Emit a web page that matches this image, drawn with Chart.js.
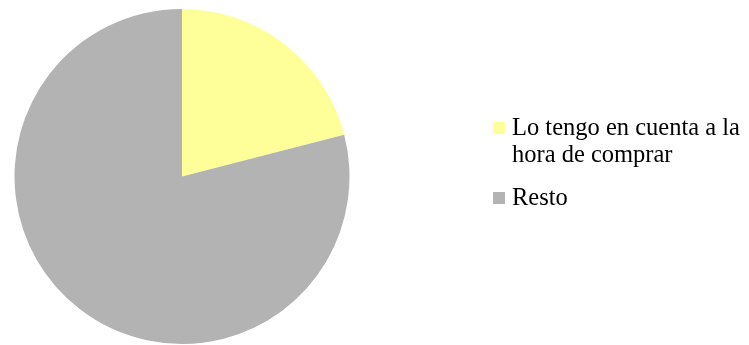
<!DOCTYPE html>
<html>
<head>
<meta charset="utf-8">
<script src="https://cdn.jsdelivr.net/npm/chart.js@4.4.1/dist/chart.umd.min.js"></script>
<style>
    html, body { margin: 0; padding: 0; background: #fff; }
    #wrap { position: relative; width: 749px; height: 345px; overflow: hidden; }
    #pieChart { position: absolute; left: 0; top: 0; }
    #legend {
        position: absolute; left: 493px; top: 113px;
        font-family: "Liberation Serif", "Times New Roman", serif;
        font-size: 24.5px; line-height: 27px; color: #000;
    }
    .item { position: relative; padding-left: 19px; white-space: nowrap; }
    .item + .item { margin-top: 16px; }
    .box { position: absolute; left: 0; top: 9px; width: 12px; height: 12px; }
</style>
</head>
<body>
<div id="wrap">
    <canvas id="pieChart" width="749" height="345"></canvas>
    <div id="legend"></div>
</div>
<script>
// Answers to the survey question
const labels = [['Lo tengo en cuenta a la', 'hora de comprar'], 'Resto'];
const values = [21, 79];
const colors = ['#FFFF99', '#B3B3B3'];

document.addEventListener('DOMContentLoaded', function() {
    const ctx = document.getElementById('pieChart');
    const chart = new Chart(ctx.getContext('2d'), {
        type: 'pie',
        data: {
            labels: labels,
            datasets: [{
                data: values,
                backgroundColor: colors,
                borderWidth: 0
            }]
        },
        options: {
            responsive: false,
            animation: false,
            layout: { padding: { left: 14, right: 399, top: 9, bottom: 1 } },
            plugins: {
                legend: { display: false },
                tooltip: { enabled: false }
            }
        }
    });

    // Legend built from the chart's own labels and colours
    const legend = document.getElementById('legend');
    chart.data.labels.forEach(function(label, i) {
        const item = document.createElement('div');
        item.className = 'item';
        const box = document.createElement('span');
        box.className = 'box';
        box.style.background = chart.data.datasets[0].backgroundColor[i];
        item.appendChild(box);
        const lines = Array.isArray(label) ? label : [label];
        lines.forEach(function(line, j) {
            if (j > 0) item.appendChild(document.createElement('br'));
            item.appendChild(document.createTextNode(line));
        });
        legend.appendChild(item);
    });
});
</script>
</body>
</html>
